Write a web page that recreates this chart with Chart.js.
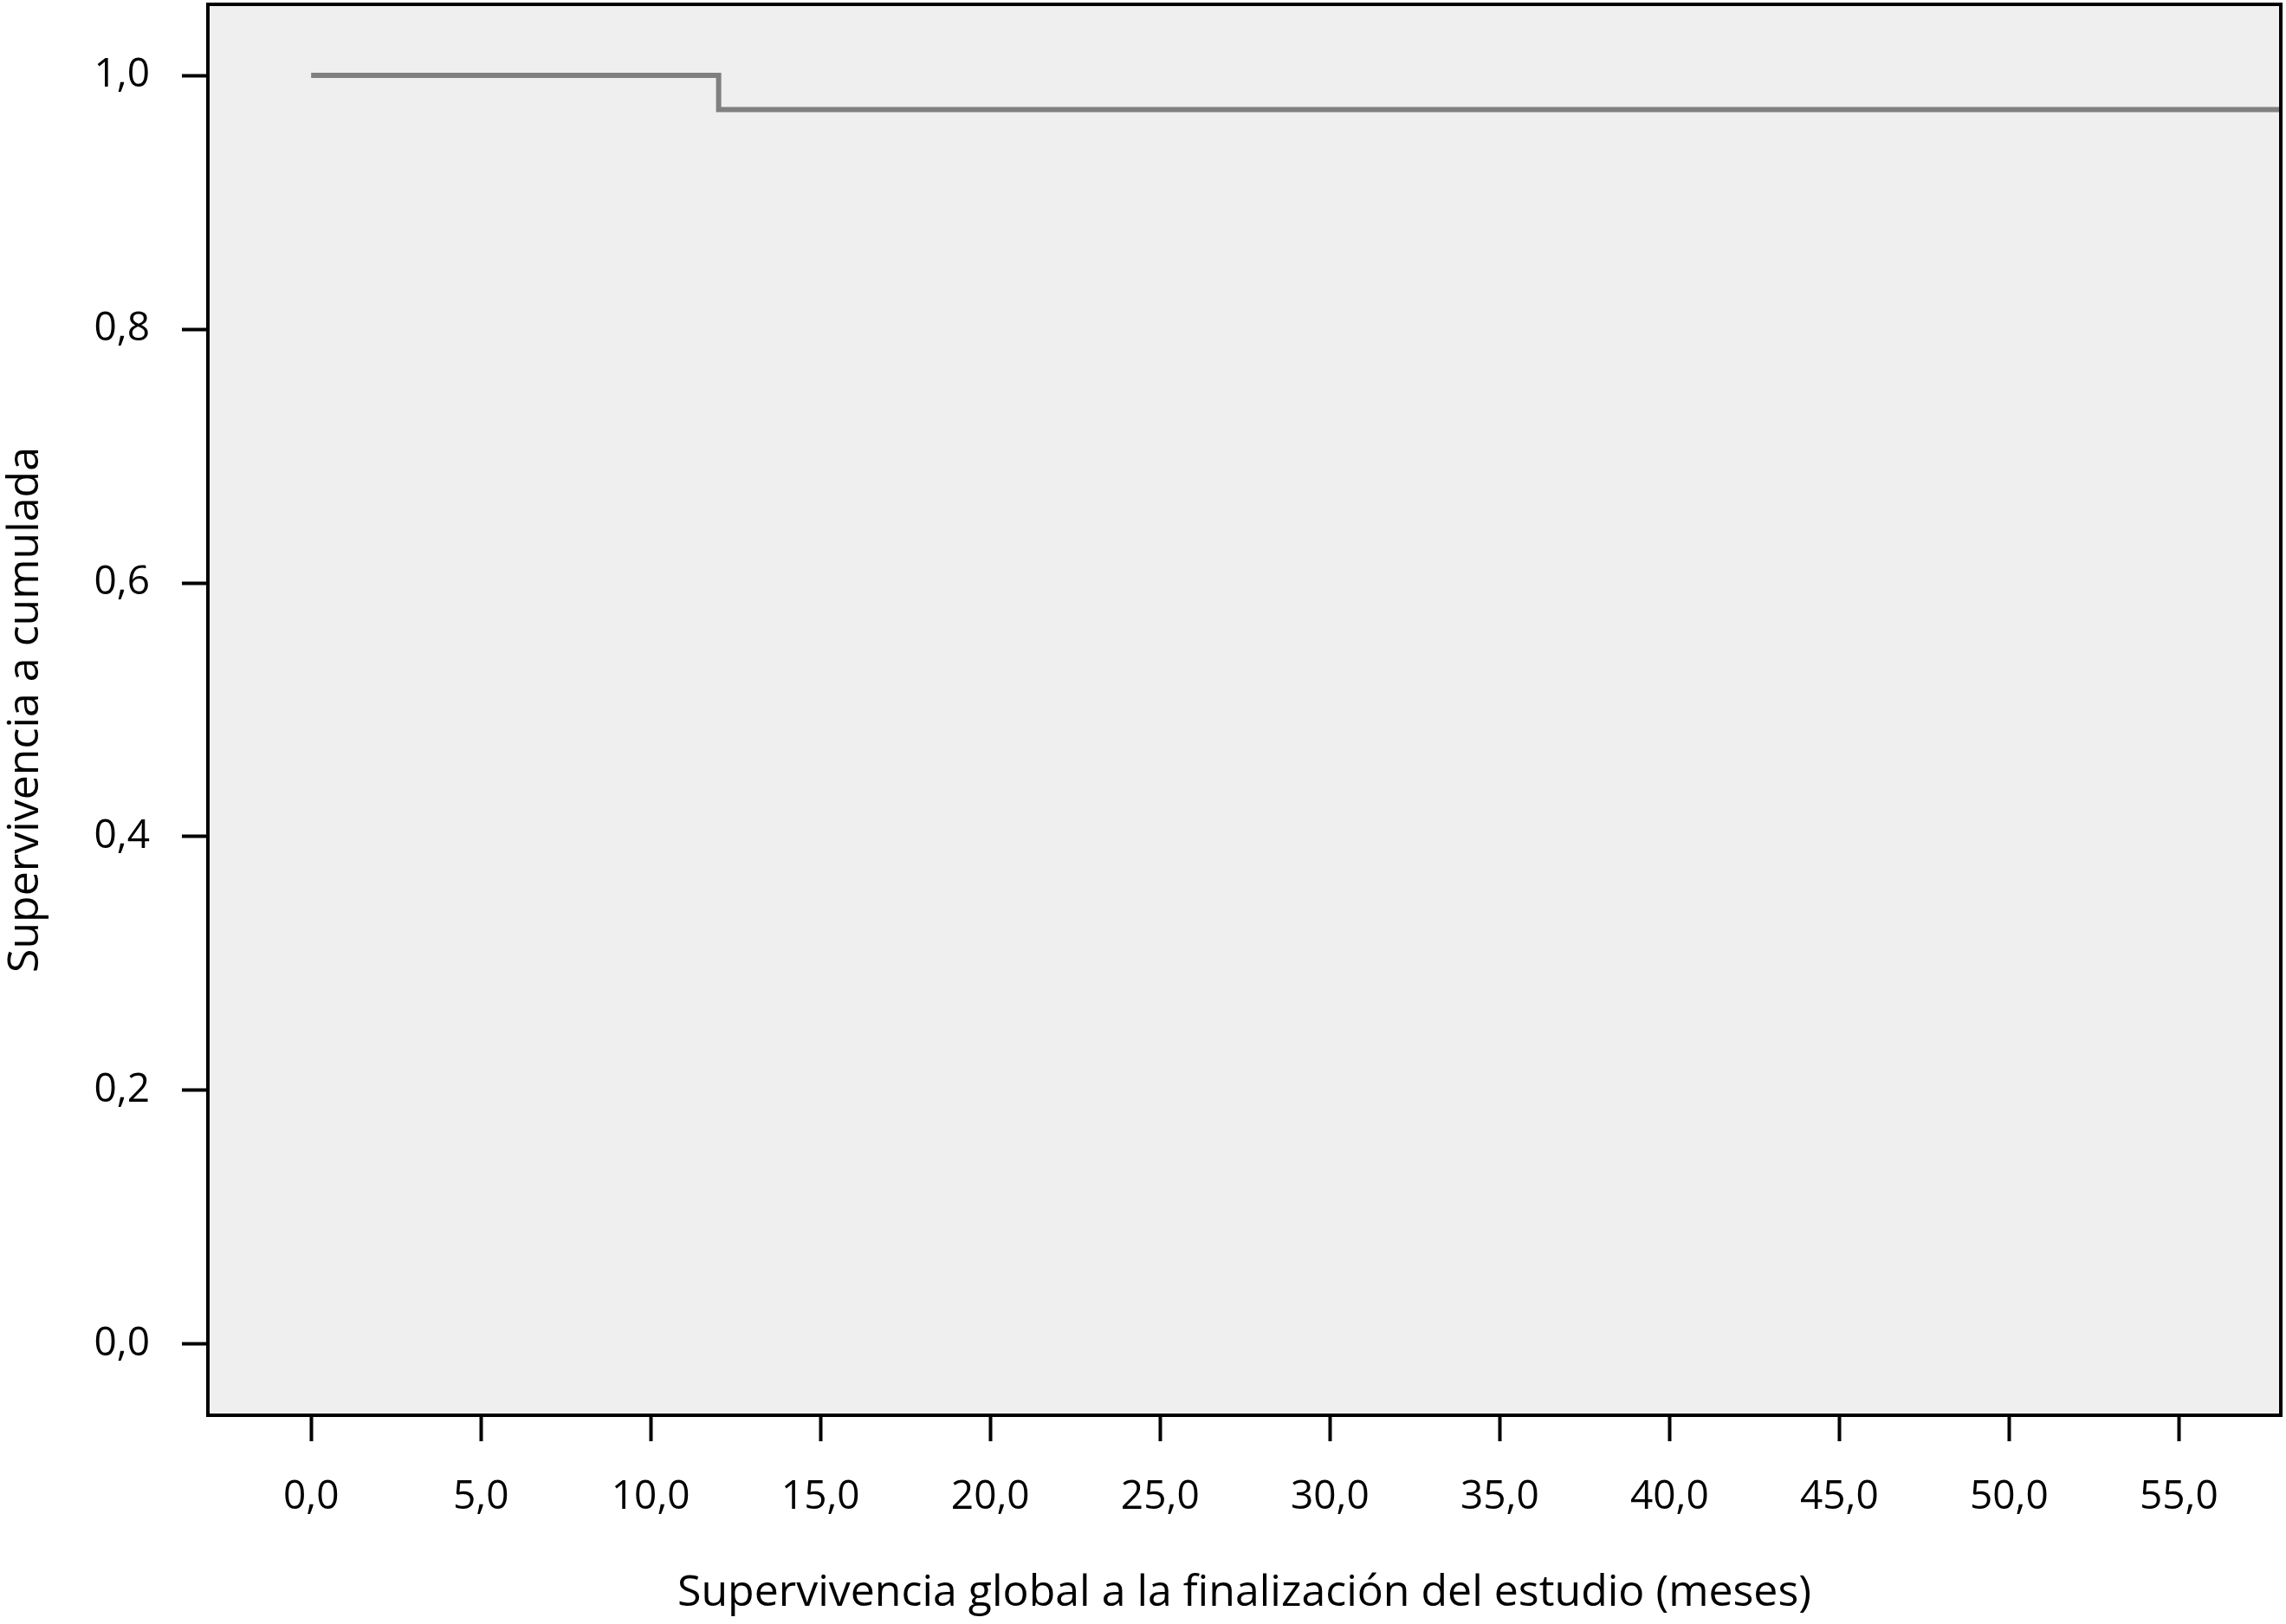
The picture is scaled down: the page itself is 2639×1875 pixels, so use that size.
<!DOCTYPE html>
<html>
<head>
<meta charset="utf-8">
<title>Supervivencia acumulada</title>
<script src="https://cdn.jsdelivr.net/npm/chart.js@4/dist/chart.umd.min.js"></script>
<style>
  html, body { margin: 0; padding: 0; background: #fff; }
  #chart { display: block; }
</style>
</head>
<body>
<canvas id="chart" width="2639" height="1875"></canvas>
<script>
// Kaplan-Meier curve: time (months) and cumulative survival at each step
const timeMonths = [0, 12, 58];
const survival   = [1.0, 0.973, 0.973];

const xTicks = [0, 5, 10, 15, 20, 25, 30, 35, 40, 45, 50, 55];
const yTicks = [0, 0.2, 0.4, 0.6, 0.8, 1.0];

const xTitle = 'Supervivencia global a la finalización del estudio (meses)';
const yTitle = 'Supervivencia a cumulada';

const points = timeMonths.map((t, i) => ({ x: t, y: survival[i] }));

// comma as decimal separator, one decimal
const fmt = v => Number(v).toFixed(1).replace('.', ',');

Chart.defaults.font.family = '"Open Sans", "Noto Sans", sans-serif';
Chart.defaults.color = '#000';

/* ─────────────────────────────────────────────
 * plot frame + grey panel
 * ───────────────────────────────────────────── */
const framePlugin = {
  id: 'frame',
  beforeDatasetsDraw(chart) {
    const { ctx, chartArea: a } = chart;
    ctx.save();
    ctx.fillStyle = '#efefef';
    ctx.fillRect(a.left, a.top, a.right - a.left, a.bottom - a.top);
    ctx.restore();
  },
  afterDraw(chart) {
    const { ctx, chartArea: a } = chart;
    ctx.save();
    ctx.strokeStyle = '#000';
    ctx.lineWidth = 4;
    ctx.strokeRect(a.left, a.top, a.right - a.left, a.bottom - a.top);
    ctx.restore();
  },
};

new Chart(document.getElementById('chart'), {
  type: 'line',
  data: {
    datasets: [{
      data: points,
      borderColor: '#808080',
      borderWidth: 6,
      stepped: true,
      pointRadius: 0,
      fill: false,
    }],
  },
  options: {
    responsive: false,
    animation: false,
    layout: { padding: { top: 5, right: 6, left: 0, bottom: 0 } },
    plugins: { legend: { display: false }, tooltip: { enabled: false } },
    scales: {
      x: {
        type: 'linear',
        min: -3.04,
        max: 58.0,
        afterBuildTicks: s => { s.ticks = xTicks.map(v => ({ value: v })); },
        afterFit: s => {
          s.height = 241;
          s.paddingLeft = 0;
          s.paddingRight = 0;
        },
        border: { display: false },
        grid: {
          drawOnChartArea: false,
          drawTicks: true,
          tickLength: 30,
          tickWidth: 4,
          tickColor: '#000',
        },
        ticks: {
          callback: v => fmt(v),
          font: { size: 46 },
          padding: 37,
          maxRotation: 0,
          autoSkip: false,
        },
        title: {
          display: true,
          text: xTitle,
          font: { size: 50 },
          padding: { top: 0, bottom: 5 },
        },
      },
      y: {
        min: -0.056,
        max: 1.056,
        afterBuildTicks: s => { s.ticks = yTicks.map(v => ({ value: v })); },
        afterFit: s => {
          s.width = 240;
          s.paddingTop = 0;
          s.paddingBottom = 0;
        },
        border: { display: false },
        grid: {
          drawOnChartArea: false,
          drawTicks: true,
          tickLength: 30,
          tickWidth: 4,
          tickColor: '#000',
        },
        ticks: {
          callback: v => fmt(v),
          font: { size: 46 },
          padding: 37,
          autoSkip: false,
        },
        title: {
          display: true,
          text: yTitle,
          font: { size: 50 },
          padding: { top: 0, bottom: 0 },
        },
      },
    },
  },
  plugins: [framePlugin],
});
</script>
</body>
</html>
